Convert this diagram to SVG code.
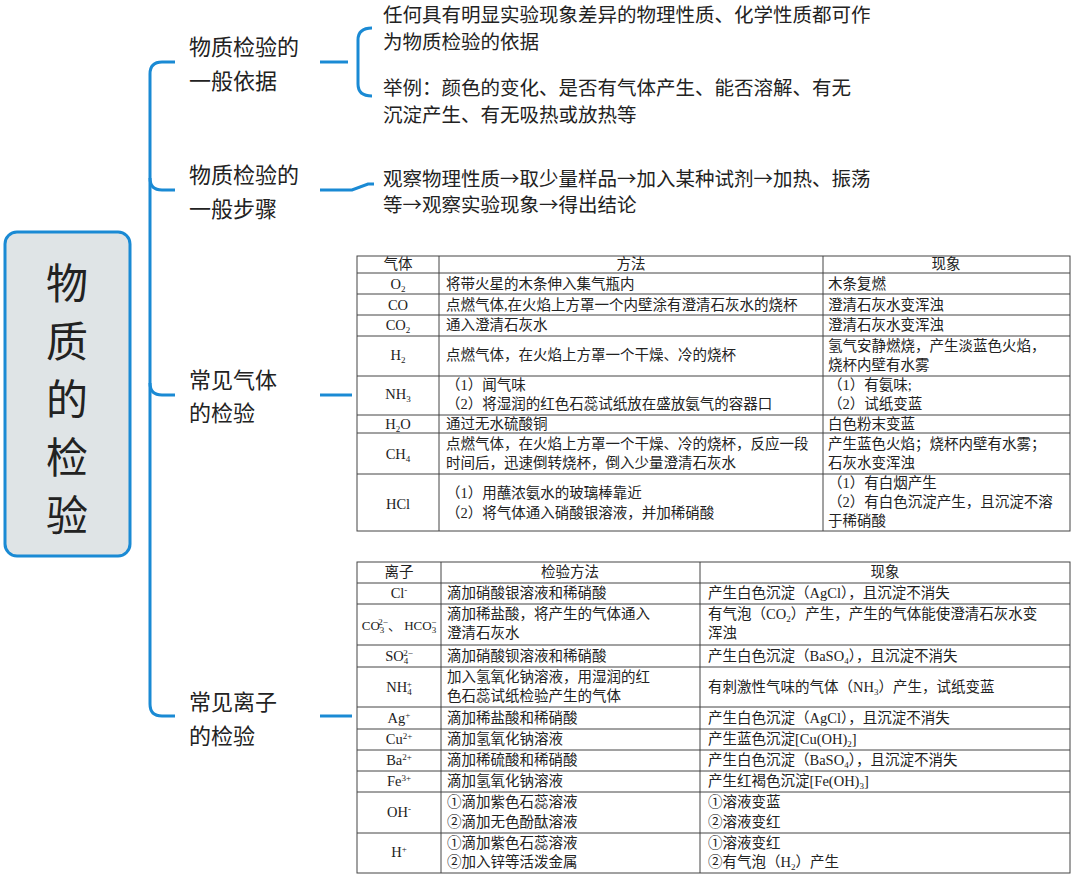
<svg xmlns="http://www.w3.org/2000/svg" width="1080" height="880" viewBox="0 0 1080 880">
<style>
.big{font-family:"Noto Sans CJK SC",sans-serif;font-size:42px;fill:#222}
.lab{font-family:"Noto Sans CJK SC",sans-serif;font-size:22px;fill:#222}
.txt{font-family:"Noto Sans CJK SC",sans-serif;font-size:19.5px;fill:#222}
.t{font-family:"Liberation Serif","Noto Sans CJK SC",serif;font-size:14.5px;fill:#222}
.c{text-anchor:middle}
.conn{fill:none;stroke:#1a8ad4;stroke-width:3}
.grid{stroke:#444;stroke-width:1;fill:none}
.s{font-size:9px}
</style>
<rect width="1080" height="880" fill="#fff"/>
<g id="connectors">
<path class="conn" d="M175 62 H162 Q150 62 150 74 V704 Q150 716 162 716 H175"/>
<path class="conn" d="M150 178 Q150 190 162 190 H175"/>
<path class="conn" d="M150 383 Q150 395 162 395 H175"/>
<path class="conn" d="M320 62 H348"/>
<path class="conn" d="M372 28 Q358 28 358 40 V84 Q358 96 372 96"/>
<path class="conn" d="M320 190 H352 L368 184 H374"/>
<path class="conn" d="M320 395 H352"/>
<path class="conn" d="M320 716 H352"/>
</g>
<g id="root">
<rect x="5" y="232" width="125" height="324" rx="12" fill="#dfe4e6" stroke="#1a8ad4" stroke-width="3"/>
<text class="big c" x="67" y="299">物</text>
<text class="big c" x="67" y="357">质</text>
<text class="big c" x="67" y="415">的</text>
<text class="big c" x="67" y="473">检</text>
<text class="big c" x="67" y="531">验</text>
</g>
<g id="n1"><text class="lab" x="189" y="55">物质检验的</text><text class="lab" x="189" y="89">一般依据</text></g>
<g id="n2"><text class="lab" x="189" y="183">物质检验的</text><text class="lab" x="189" y="217">一般步骤</text></g>
<g id="n3"><text class="lab" x="189" y="388">常见气体</text><text class="lab" x="189" y="421">的检验</text></g>
<g id="n4"><text class="lab" x="189" y="710">常见离子</text><text class="lab" x="189" y="744">的检验</text></g>
<g id="n1text">
<text class="txt" x="383" y="22">任何具有明显实验现象差异的物理性质、化学性质都可作</text>
<text class="txt" x="383" y="49">为物质检验的依据</text>
<text class="txt" x="383" y="95">举例：颜色的变化、是否有气体产生、能否溶解、有无</text>
<text class="txt" x="383" y="122">沉淀产生、有无吸热或放热等</text>
</g>
<g id="n2text">
<text class="txt" x="383" y="186">观察物理性质→取少量样品→加入某种试剂→加热、振荡</text>
<text class="txt" x="383" y="212">等→观察实验现象→得出结论</text>
</g>
<g id="gasTable">
<rect class="grid" x="357" y="256" width="713" height="275"/>
<path class="grid" d="M439 256V531M823 256V531M357 273H1070M357 294H1070M357 315H1070M357 336H1070M357 376H1070M357 415H1070M357 433H1070M357 474H1070"/>
<text class="t c" x="398" y="269">气体</text><text class="t c" x="631" y="269">方法</text><text class="t c" x="946" y="269">现象</text>
<text class="t c" x="398" y="289">O<tspan class="s" dy="3">2</tspan></text><text class="t" x="446" y="289">将带火星的木条伸入集气瓶内</text><text class="t" x="828" y="289">木条复燃</text>
<text class="t c" x="398" y="310">CO</text><text class="t" x="446" y="310">点燃气体,在火焰上方罩一个内壁涂有澄清石灰水的烧杯</text><text class="t" x="828" y="310">澄清石灰水变浑浊</text>
<text class="t c" x="398" y="330">CO<tspan class="s" dy="3">2</tspan></text><text class="t" x="446" y="330">通入澄清石灰水</text><text class="t" x="828" y="330">澄清石灰水变浑浊</text>
<text class="t c" x="398" y="360">H<tspan class="s" dy="3">2</tspan></text><text class="t" x="446" y="360">点燃气体，在火焰上方罩一个干燥、冷的烧杯</text><text class="t" x="828" y="351">氢气安静燃烧，产生淡蓝色火焰，</text><text class="t" x="828" y="370">烧杯内壁有水雾</text>
<text class="t c" x="398" y="399">NH<tspan class="s" dy="3">3</tspan></text><text class="t" x="446" y="390">（1）闻气味</text><text class="t" x="446" y="409">（2）将湿润的红色石蕊试纸放在盛放氨气的容器口</text><text class="t" x="828" y="390">（1）有氨味;</text><text class="t" x="828" y="409">（2）试纸变蓝</text>
<text class="t c" x="398" y="429">H<tspan class="s" dy="3">2</tspan><tspan dy="-3">O</tspan></text><text class="t" x="446" y="429">通过无水硫酸铜</text><text class="t" x="828" y="429">白色粉末变蓝</text>
<text class="t c" x="398" y="459">CH<tspan class="s" dy="3">4</tspan></text><text class="t" x="446" y="449">点燃气体，在火焰上方罩一个干燥、冷的烧杯，反应一段</text><text class="t" x="446" y="468">时间后，迅速倒转烧杯，倒入少量澄清石灰水</text><text class="t" x="828" y="449">产生蓝色火焰；烧杯内壁有水雾；</text><text class="t" x="828" y="468">石灰水变浑浊</text>
<text class="t c" x="398" y="509">HCl</text><text class="t" x="446" y="498">（1）用蘸浓氨水的玻璃棒靠近</text><text class="t" x="446" y="518">（2）将气体通入硝酸银溶液，并加稀硝酸</text><text class="t" x="828" y="488">（1）有白烟产生</text><text class="t" x="828" y="507">（2）有白色沉淀产生，且沉淀不溶</text><text class="t" x="828" y="526">于稀硝酸</text>
</g>
<g id="ionTable">
<rect class="grid" x="357" y="562" width="713" height="311"/>
<path class="grid" d="M441 562V873M700 562V873M357 583H1070M357 604H1070M357 645H1070M357 667H1070M357 707H1070M357 729H1070M357 750H1070M357 771H1070M357 792H1070M357 833H1070"/>
<text class="t c" x="399" y="577">离子</text><text class="t c" x="570" y="577">检验方法</text><text class="t c" x="885" y="577">现象</text>
<text class="t c" x="399" y="598">Cl<tspan class="s" dy="-5">-</tspan></text><text class="t" x="479" y="598" dx="-32">滴加硝酸银溶液和稀硝酸</text><text class="t" x="708" y="598">产生白色沉淀（AgCl），且沉淀不消失</text>
<text class="t c" x="399" y="630" style="font-size:13px">CO<tspan class="s" dy="3">3</tspan><tspan class="s" dx="-6" dy="-8">2−</tspan><tspan dy="5">、 HCO</tspan><tspan class="s" dy="3">3</tspan><tspan class="s" dx="-5" dy="-8">−</tspan></text><text class="t" x="447" y="619">滴加稀盐酸，将产生的气体通入</text><text class="t" x="447" y="638">澄清石灰水</text><text class="t" x="708" y="619">有气泡（CO<tspan class="s" dy="3">2</tspan><tspan dy="-3">）产生，产生的气体能使澄清石灰水变</tspan></text><text class="t" x="708" y="638">浑浊</text>
<text class="t c" x="399" y="661">SO<tspan class="s" dy="3">4</tspan><tspan class="s" dx="-5" dy="-8">2−</tspan></text><text class="t" x="447" y="661">滴加硝酸钡溶液和稀硝酸</text><text class="t" x="708" y="661">产生白色沉淀（BaSO<tspan class="s" dy="3">4</tspan><tspan dy="-3">），且沉淀不消失</tspan></text>
<text class="t c" x="399" y="692">NH<tspan class="s" dy="3">4</tspan><tspan class="s" dx="-5" dy="-8">+</tspan></text><text class="t" x="447" y="682">加入氢氧化钠溶液，用湿润的红</text><text class="t" x="447" y="701">色石蕊试纸检验产生的气体</text><text class="t" x="708" y="692">有刺激性气味的气体（NH<tspan class="s" dy="3">3</tspan><tspan dy="-3">）产生，试纸变蓝</tspan></text>
<text class="t c" x="399" y="723">Ag<tspan class="s" dy="-5">+</tspan></text><text class="t" x="447" y="723">滴加稀盐酸和稀硝酸</text><text class="t" x="708" y="723">产生白色沉淀（AgCl），且沉淀不消失</text>
<text class="t c" x="399" y="744">Cu<tspan class="s" dy="-5">2+</tspan></text><text class="t" x="447" y="744">滴加氢氧化钠溶液</text><text class="t" x="708" y="744">产生蓝色沉淀[Cu(OH)<tspan class="s" dy="3">2</tspan><tspan dy="-3">]</tspan></text>
<text class="t c" x="399" y="765">Ba<tspan class="s" dy="-5">2+</tspan></text><text class="t" x="447" y="765">滴加稀硫酸和稀硝酸</text><text class="t" x="708" y="765">产生白色沉淀（BaSO<tspan class="s" dy="3">4</tspan><tspan dy="-3">），且沉淀不消失</tspan></text>
<text class="t c" x="399" y="786">Fe<tspan class="s" dy="-5">3+</tspan></text><text class="t" x="447" y="786">滴加氢氧化钠溶液</text><text class="t" x="708" y="786">产生红褐色沉淀[Fe(OH)<tspan class="s" dy="3">3</tspan><tspan dy="-3">]</tspan></text>
<text class="t c" x="399" y="817">OH<tspan class="s" dy="-5">-</tspan></text><text class="t" x="447" y="807">①滴加紫色石蕊溶液</text><text class="t" x="447" y="827">②滴加无色酚酞溶液</text><text class="t" x="708" y="807">①溶液变蓝</text><text class="t" x="708" y="827">②溶液变红</text>
<text class="t c" x="399" y="857">H<tspan class="s" dy="-5">+</tspan></text><text class="t" x="447" y="848">①滴加紫色石蕊溶液</text><text class="t" x="447" y="867">②加入锌等活泼金属</text><text class="t" x="708" y="848">①溶液变红</text><text class="t" x="708" y="867">②有气泡（H<tspan class="s" dy="3">2</tspan><tspan dy="-3">）产生</tspan></text>
</g>
</svg>
